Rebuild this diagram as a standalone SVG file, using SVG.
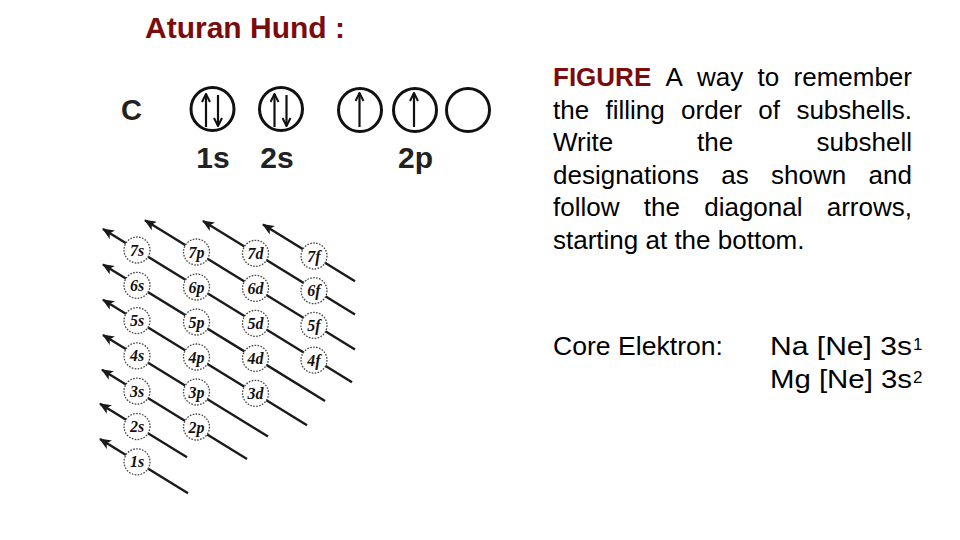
<svg xmlns="http://www.w3.org/2000/svg" width="960" height="540" viewBox="0 0 960 540">
<style>
.title{font-family:"Liberation Sans",Arial,sans-serif;font-weight:bold;font-size:30px;fill:#7a0c0c}
.big{font-family:"Liberation Sans",Arial,sans-serif;font-weight:bold;fill:#222}
.orb{fill:#fff;stroke:#111;stroke-width:3}
.spin{stroke:#111;stroke-width:2.2;fill:none}
.para{font-family:"Liberation Sans",Arial,sans-serif;font-size:26px;fill:#000}
.fig{font-weight:bold;fill:#7a0c0c}
.cc{fill:#fff;stroke:#444;stroke-width:1.3;stroke-dasharray:1.6 1.4}
.cl{font-family:"Liberation Serif","Times New Roman",serif;font-weight:bold;font-style:italic;font-size:16px;fill:#111;text-anchor:middle}
.diag{stroke:#1a1a1a;stroke-width:2.4;fill:none}
</style>
<defs>
<marker id="hd" viewBox="0 0 12 10" refX="11" refY="5" markerWidth="12" markerHeight="10" markerUnits="userSpaceOnUse" orient="auto">
<path d="M0,0 L12,5 L0,10 L3,5 Z" fill="#1a1a1a"/>
</marker>
<marker id="oh" viewBox="0 0 10 10" refX="9" refY="5" markerWidth="10" markerHeight="10" markerUnits="userSpaceOnUse" orient="auto">
<path d="M1,1 L9,5 L1,9" fill="none" stroke="#111" stroke-width="2"/>
</marker>
</defs>
<rect width="960" height="540" fill="#fff"/>

<text id="title" class="title" x="145" y="38">Aturan Hund :</text>

<g id="orbital-diagram">
<text class="big" x="131.5" y="120" font-size="29" text-anchor="middle">C</text>
<g id="orb-1s">
<circle class="orb" cx="212.5" cy="109" r="21.5"/>
<line class="spin" x1="206" y1="127" x2="206" y2="94" marker-end="url(#oh)"/>
<line class="spin" x1="218" y1="95" x2="218" y2="126" marker-end="url(#oh)"/>
</g>
<g id="orb-2s">
<circle class="orb" cx="281" cy="109" r="21.5"/>
<line class="spin" x1="274.5" y1="127" x2="274.5" y2="94" marker-end="url(#oh)"/>
<line class="spin" x1="286.5" y1="95" x2="286.5" y2="126" marker-end="url(#oh)"/>
</g>
<g id="orb-2p-1">
<circle class="orb" cx="360" cy="110" r="21.5"/>
<line class="spin" x1="359.5" y1="127" x2="359.5" y2="93" marker-end="url(#oh)"/>
</g>
<g id="orb-2p-2">
<circle class="orb" cx="415" cy="110" r="21.5"/>
<line class="spin" x1="414" y1="127" x2="414" y2="93" marker-end="url(#oh)"/>
</g>
<g id="orb-2p-3">
<circle class="orb" cx="468" cy="110" r="21.5"/>
</g>
<text class="big" x="213" y="168" font-size="30" text-anchor="middle">1s</text>
<text class="big" x="277" y="168" font-size="30" text-anchor="middle">2s</text>
<text class="big" x="415.5" y="168" font-size="30" text-anchor="middle">2p</text>
</g>

<g id="connectors">
<line class="diag" x1="352" y1="382.2" x2="103" y2="229.1" marker-end="url(#hd)"/>
<line class="diag" x1="355" y1="349.5" x2="145" y2="220.3" marker-end="url(#hd)"/>
<line class="diag" x1="355" y1="314.5" x2="203" y2="221" marker-end="url(#hd)"/>
<line class="diag" x1="355" y1="281.2" x2="263" y2="224.6" marker-end="url(#hd)"/>
<line class="diag" x1="325" y1="400.9" x2="103" y2="264.4" marker-end="url(#hd)"/>
<line class="diag" x1="307" y1="425.2" x2="103" y2="299.7" marker-end="url(#hd)"/>
<line class="diag" x1="268" y1="436.5" x2="103" y2="335" marker-end="url(#hd)"/>
<line class="diag" x1="247" y1="458.9" x2="102" y2="369.7" marker-end="url(#hd)"/>
<line class="diag" x1="187" y1="457.3" x2="100" y2="403.7" marker-end="url(#hd)"/>
<line class="diag" x1="188" y1="493.2" x2="100" y2="439" marker-end="url(#hd)"/>
</g>

<g id="n7s"><circle class="cc" cx="137" cy="250" r="13"/><text class="cl" x="137" y="255.5">7s</text></g>
<g id="n6s"><circle class="cc" cx="137" cy="285.3" r="13"/><text class="cl" x="137" y="290.8">6s</text></g>
<g id="n5s"><circle class="cc" cx="137" cy="320.6" r="13"/><text class="cl" x="137" y="326.1">5s</text></g>
<g id="n4s"><circle class="cc" cx="137" cy="355.9" r="13"/><text class="cl" x="137" y="361.4">4s</text></g>
<g id="n3s"><circle class="cc" cx="137" cy="391.2" r="13"/><text class="cl" x="137" y="396.7">3s</text></g>
<g id="n2s"><circle class="cc" cx="137" cy="426.5" r="13"/><text class="cl" x="137" y="432">2s</text></g>
<g id="n1s"><circle class="cc" cx="137" cy="461.8" r="13"/><text class="cl" x="137" y="467.3">1s</text></g>

<g id="n7p"><circle class="cc" cx="196.5" cy="252" r="13"/><text class="cl" x="196.5" y="257.5">7p</text></g>
<g id="n6p"><circle class="cc" cx="196.5" cy="287" r="13"/><text class="cl" x="196.5" y="292.5">6p</text></g>
<g id="n5p"><circle class="cc" cx="196.5" cy="322" r="13"/><text class="cl" x="196.5" y="327.5">5p</text></g>
<g id="n4p"><circle class="cc" cx="196.5" cy="357" r="13"/><text class="cl" x="196.5" y="362.5">4p</text></g>
<g id="n3p"><circle class="cc" cx="196.5" cy="392" r="13"/><text class="cl" x="196.5" y="397.5">3p</text></g>
<g id="n2p"><circle class="cc" cx="196.5" cy="427" r="13"/><text class="cl" x="196.5" y="432.5">2p</text></g>

<g id="n7d"><circle class="cc" cx="255.5" cy="253.3" r="13"/><text class="cl" x="255.5" y="258.8">7d</text></g>
<g id="n6d"><circle class="cc" cx="255.5" cy="288.3" r="13"/><text class="cl" x="255.5" y="293.8">6d</text></g>
<g id="n5d"><circle class="cc" cx="255.5" cy="323.3" r="13"/><text class="cl" x="255.5" y="328.8">5d</text></g>
<g id="n4d"><circle class="cc" cx="255.5" cy="358.3" r="13"/><text class="cl" x="255.5" y="363.8">4d</text></g>
<g id="n3d"><circle class="cc" cx="255.5" cy="393.3" r="13"/><text class="cl" x="255.5" y="398.8">3d</text></g>

<g id="n7f"><circle class="cc" cx="314" cy="256" r="13"/><text class="cl" x="314" y="261.5">7f</text></g>
<g id="n6f"><circle class="cc" cx="314" cy="290.7" r="13"/><text class="cl" x="314" y="296.2">6f</text></g>
<g id="n5f"><circle class="cc" cx="314" cy="325.4" r="13"/><text class="cl" x="314" y="330.9">5f</text></g>
<g id="n4f"><circle class="cc" cx="314" cy="360.1" r="13"/><text class="cl" x="314" y="365.6">4f</text></g>

<g id="caption" class="para">
<text y="86"><tspan class="fig" x="553">FIGURE</tspan><tspan x="665.5">A</tspan><tspan x="697.1">way</tspan><tspan x="757.6">to</tspan></text>
<text y="86" x="912" text-anchor="end">remember</text>
<text y="118.6"><tspan x="553">the</tspan><tspan x="605.5">filling</tspan><tspan x="681.1">order</tspan><tspan x="758.2">of</tspan></text>
<text y="118.6" x="912" text-anchor="end">subshells.</text>
<text y="151.2"><tspan x="553">Write</tspan><tspan x="697.1">the</tspan></text>
<text y="151.2" x="912" text-anchor="end">subshell</text>
<text y="183.8"><tspan x="553">designations</tspan><tspan x="721.3">as</tspan><tspan x="771.1">shown</tspan></text>
<text y="183.8" x="912" text-anchor="end">and</text>
<text y="216.4"><tspan x="553">follow</tspan><tspan x="643.8">the</tspan><tspan x="704.2">diagonal</tspan></text>
<text y="216.4" x="912" text-anchor="end">arrows,</text>
<text y="249" x="553">starting at the bottom.</text>
</g>

<g id="core" class="para">
<text x="553" y="355" textLength="170" lengthAdjust="spacingAndGlyphs">Core Elektron:</text>
<text x="770" y="355" textLength="142" lengthAdjust="spacingAndGlyphs">Na [Ne] 3s</text>
<text x="913" y="350" font-size="17">1</text>
<text x="770" y="387.5" textLength="142" lengthAdjust="spacingAndGlyphs">Mg [Ne] 3s</text>
<text x="913" y="382.5" font-size="17">2</text>
</g>
</svg>
